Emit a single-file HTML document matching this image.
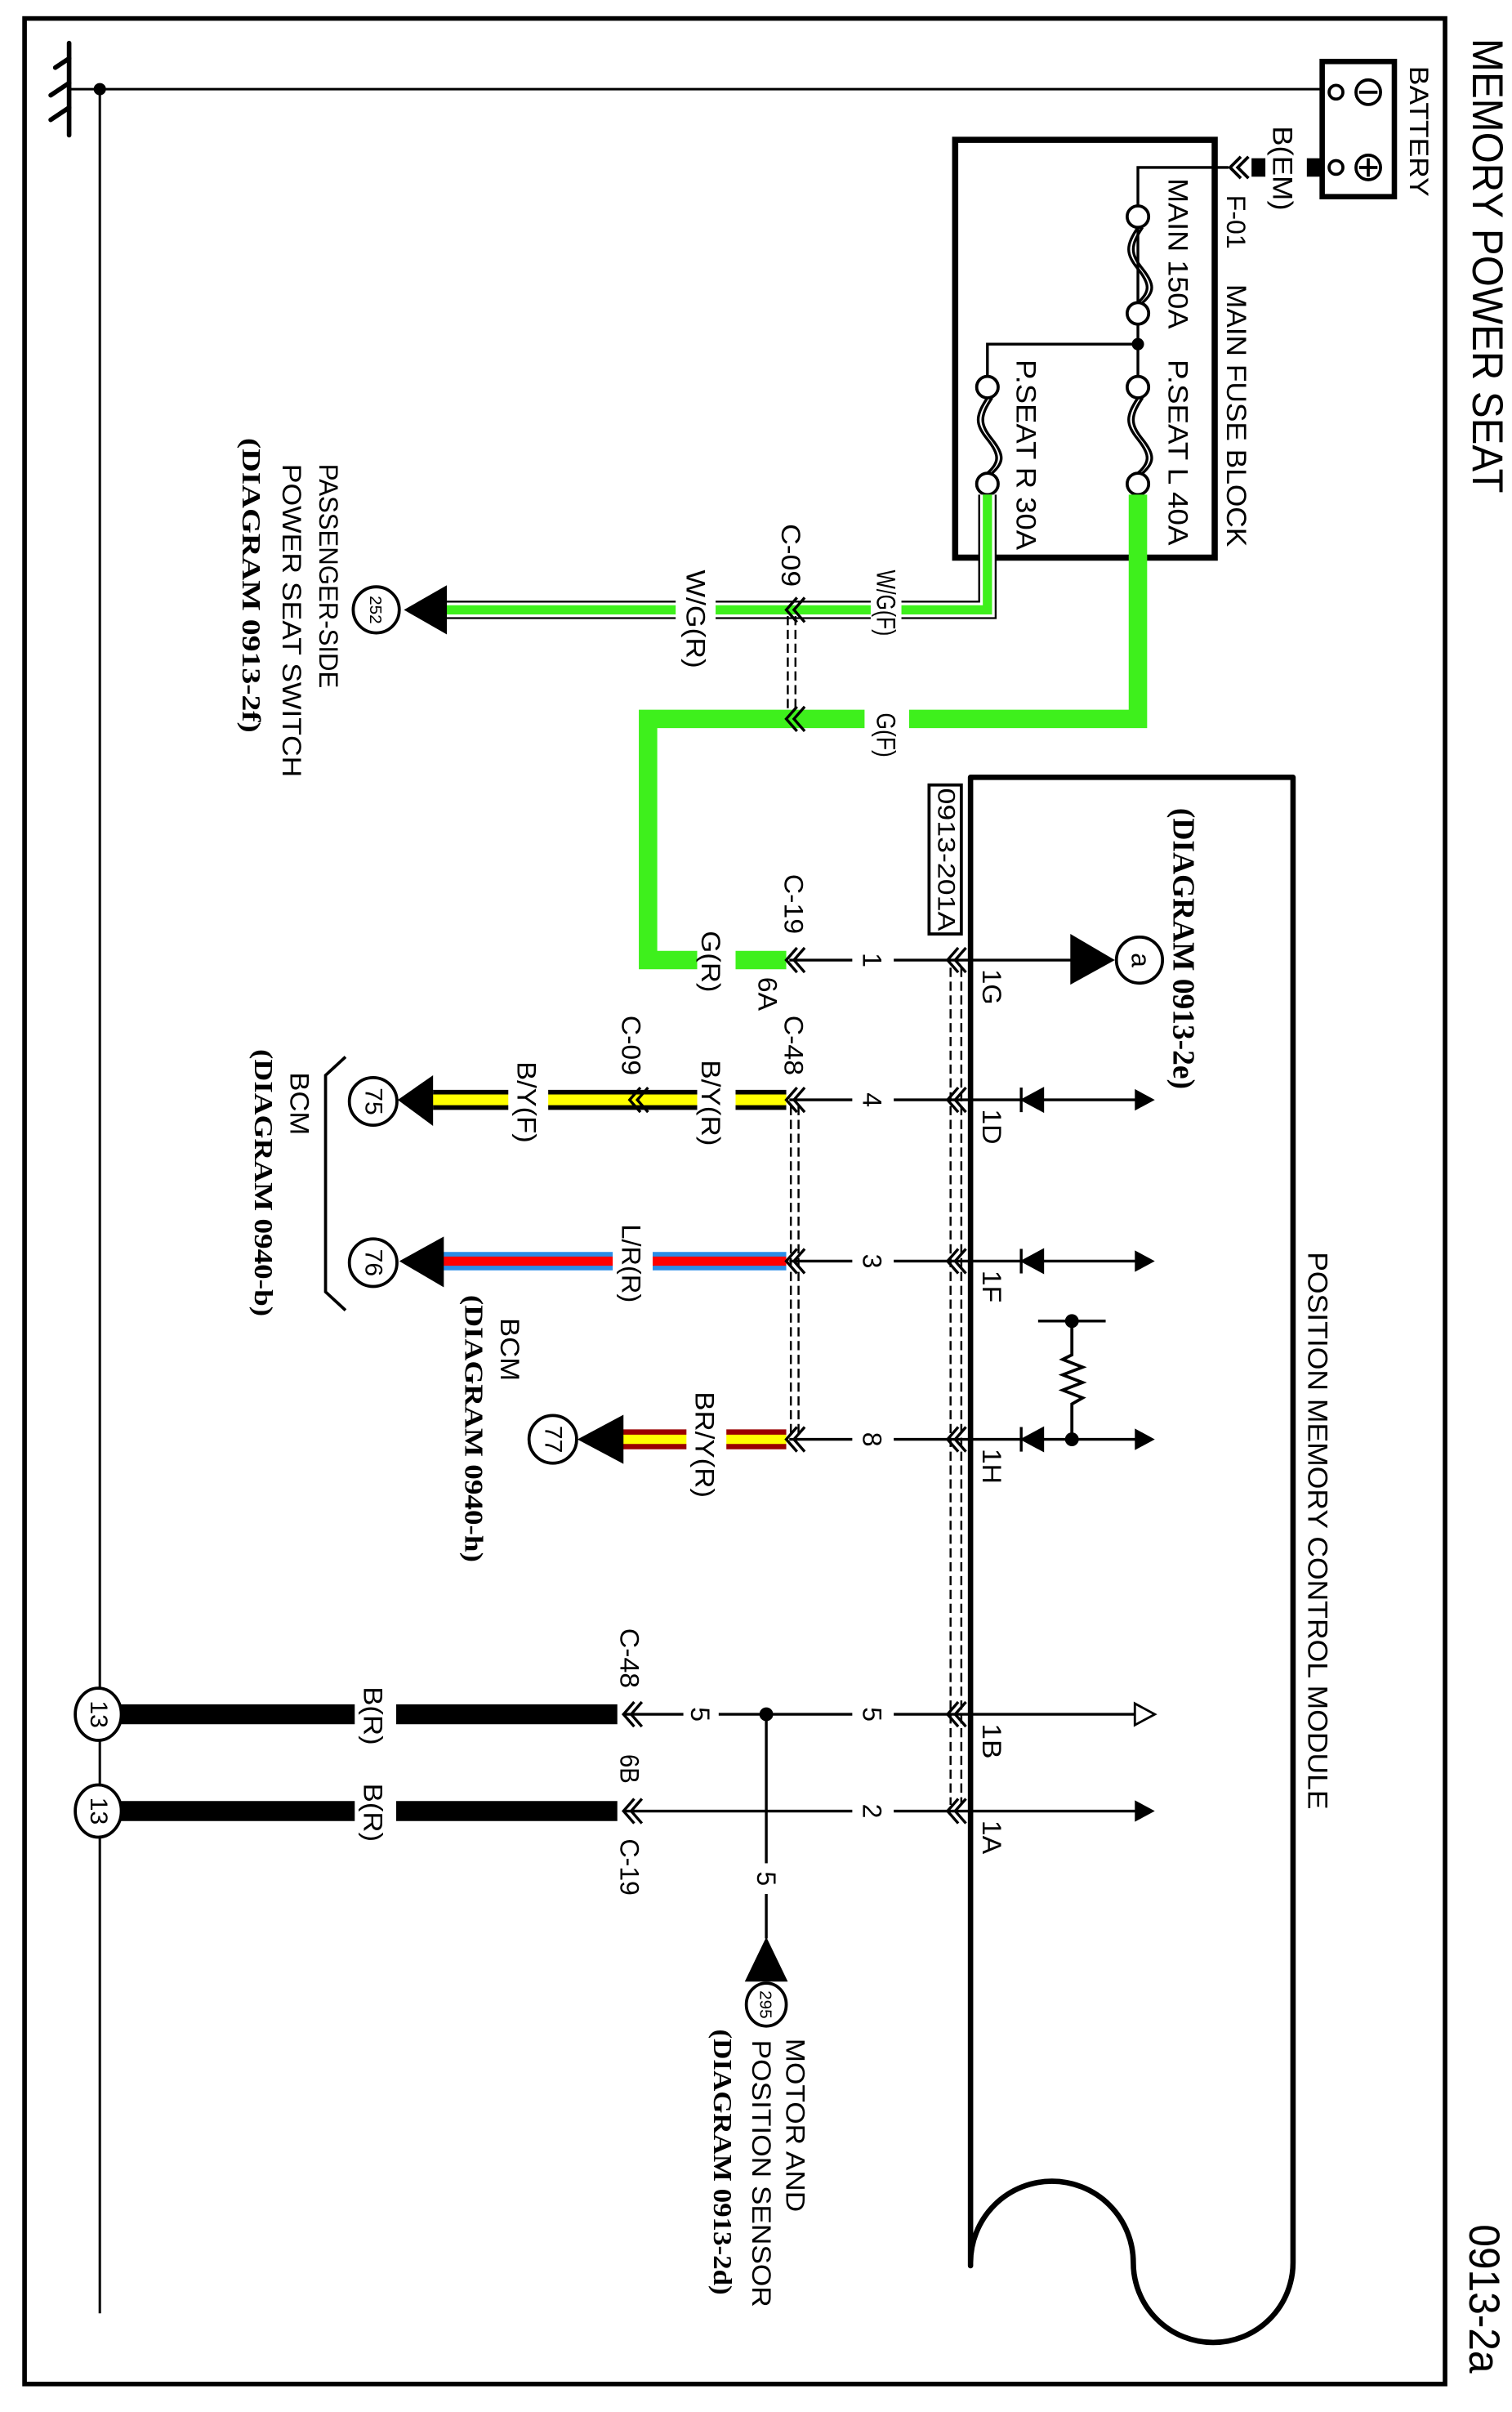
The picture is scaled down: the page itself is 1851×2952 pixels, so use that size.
<!DOCTYPE html>
<html><head><meta charset="utf-8">
<style>
html,body{margin:0;padding:0;background:#fff;}
svg{display:block;}
.s{font-family:"Liberation Sans",Arial,sans-serif;fill:#000;}
.r{font-family:"Liberation Serif","Times New Roman",serif;font-weight:bold;fill:#000;}
</style></head><body>
<svg xmlns="http://www.w3.org/2000/svg" width="1851" height="2952" viewBox="0 0 984.6 1570.2">
<rect x="0" y="0" width="984.6" height="1570.2" fill="#fff"/>
<rect x="16" y="12" width="925" height="1540" fill="none" stroke="#000" stroke-width="3"/>

<g stroke="#000" stroke-width="3" fill="none" stroke-linecap="round">
<line x1="45" y1="28" x2="45" y2="88"/>
<line x1="36" y1="44" x2="45" y2="38"/>
<line x1="33" y1="62" x2="45" y2="54"/>
<line x1="33" y1="78" x2="45" y2="70"/>
</g>
<g stroke="#000" stroke-width="1.6" fill="none">
<line x1="45" y1="58" x2="862" y2="58"/>
<line x1="65" y1="58" x2="65" y2="1506"/>
</g>
<circle cx="65" cy="58" r="4" fill="#000"/>

<rect x="861" y="40" width="47" height="88" fill="none" stroke="#000" stroke-width="3.5"/>
<circle cx="891" cy="60" r="8" fill="none" stroke="#000" stroke-width="2"/>
<line x1="885" y1="60" x2="897" y2="60" stroke="#000" stroke-width="2"/>
<circle cx="891" cy="109" r="8" fill="none" stroke="#000" stroke-width="2"/>
<line x1="885" y1="109" x2="897" y2="109" stroke="#000" stroke-width="2"/>
<line x1="891" y1="103" x2="891" y2="115" stroke="#000" stroke-width="2"/>
<circle cx="870" cy="60" r="4.5" fill="#fff" stroke="#000" stroke-width="2"/>
<circle cx="870" cy="109" r="4.5" fill="#fff" stroke="#000" stroke-width="2"/>
<rect x="851" y="103" width="9" height="12" fill="#000"/>
<rect x="815" y="103" width="9" height="12" fill="#000"/>
<polyline points="813,102 806,109 813,116" fill="none" stroke="#000" stroke-width="2"/>
<polyline points="808,102 801,109 808,116" fill="none" stroke="#000" stroke-width="2"/>

<rect x="622" y="91" width="169" height="272" fill="none" stroke="#000" stroke-width="4"/>
<g stroke="#000" stroke-width="1.8" fill="none">
<polyline points="800,109 741,109 741,134"/>
<line x1="741" y1="148" x2="741" y2="245"/>
<polyline points="741,224 643,224 643,245"/>
<path d="M741,148 C733,160 733,165 741,175 C749,185 749,190 741,197"/>
<path d="M744,148 C736,160 736,165 744,175 C752,185 752,190 744,197"/>
<path d="M741,259 C733,271 733,276 741,286 C749,296 749,301 741,308"/>
<path d="M744,259 C736,271 736,276 744,286 C752,296 752,301 744,308"/>
<path d="M643,259 C635,271 635,276 643,286 C651,296 651,301 643,308"/>
<path d="M646,259 C638,271 638,276 646,286 C654,296 654,301 646,308"/>
</g>
<g fill="#fff" stroke="#000" stroke-width="2">
<circle cx="741" cy="141" r="7"/><circle cx="741" cy="204" r="7"/>
<circle cx="741" cy="252" r="7"/><circle cx="741" cy="315" r="7"/>
<circle cx="643" cy="252" r="7"/><circle cx="643" cy="315" r="7"/>
</g>
<circle cx="741" cy="224" r="4" fill="#000"/>

<polyline points="741,322 741,468 422,468 422,625 512,625" fill="none" stroke="#3ef01c" stroke-width="12"/>
<polyline points="643,322 643,397 290,397" fill="none" stroke="#000" stroke-width="12"/>
<polyline points="643,322 643,397 290,397" fill="none" stroke="#fff" stroke-width="9.5"/>
<polyline points="643,322 643,397 290,397" fill="none" stroke="#3ef01c" stroke-width="6"/>

<line x1="282" y1="716" x2="512" y2="716" stroke="#000" stroke-width="13"/>
<line x1="282" y1="716" x2="512" y2="716" stroke="#ffff00" stroke-width="7"/>
<line x1="282" y1="821" x2="512" y2="821" stroke="#2a8ee8" stroke-width="12"/>
<line x1="282" y1="821" x2="512" y2="821" stroke="#ff0000" stroke-width="6"/>
<line x1="400" y1="937" x2="512" y2="937" stroke="#9a0000" stroke-width="13"/>
<line x1="400" y1="937" x2="512" y2="937" stroke="#ffff00" stroke-width="6"/>
<line x1="78" y1="1116" x2="402" y2="1116" stroke="#000" stroke-width="13"/>
<line x1="78" y1="1179" x2="402" y2="1179" stroke="#000" stroke-width="13"/>

<g stroke="#000" stroke-width="1.8" fill="none">
<line x1="514" y1="625" x2="632" y2="625"/>
<line x1="514" y1="716" x2="632" y2="716"/>
<line x1="514" y1="821" x2="632" y2="821"/>
<line x1="514" y1="937" x2="632" y2="937"/>
<line x1="406" y1="1116" x2="632" y2="1116"/>
<line x1="406" y1="1179" x2="632" y2="1179"/>
<line x1="499" y1="1116" x2="499" y2="1262"/>
<line x1="632" y1="625" x2="700" y2="625"/>
<line x1="632" y1="716" x2="742" y2="716"/>
<line x1="632" y1="821" x2="742" y2="821"/>
<line x1="632" y1="937" x2="742" y2="937"/>
<line x1="632" y1="1116" x2="742" y2="1116"/>
<line x1="632" y1="1179" x2="742" y2="1179"/>
<line x1="676" y1="860" x2="720" y2="860"/>
<polyline points="698,860 698,882 692,885 705,890 692,895 705,900 692,905 705,910 698,914 698,937" stroke-width="2"/>
</g>
<circle cx="698" cy="860" r="4.5" fill="#000"/>
<circle cx="698" cy="937" r="4.5" fill="#000"/>
<circle cx="499" cy="1116" r="4.5" fill="#000"/>

<g stroke="#000" stroke-width="1.3" stroke-dasharray="6,3" fill="none">
<line x1="619" y1="630" x2="619" y2="1175"/>
<line x1="626" y1="630" x2="626" y2="1175"/>
<line x1="515" y1="720" x2="515" y2="933"/>
<line x1="520" y1="720" x2="520" y2="933"/>
<line x1="513" y1="401" x2="513" y2="464"/>
<line x1="518" y1="401" x2="518" y2="464"/>
</g>

<g stroke="#000" stroke-width="1.8" fill="none">
<g id="chv"><polyline points="519,617 512,625 519,633"/><polyline points="524,617 517,625 524,633"/></g>
<use href="#chv" transform="translate(0,91)"/>
<use href="#chv" transform="translate(0,196)"/>
<use href="#chv" transform="translate(0,312)"/>
<use href="#chv" transform="translate(105,0)"/>
<use href="#chv" transform="translate(105,91)"/>
<use href="#chv" transform="translate(105,196)"/>
<use href="#chv" transform="translate(105,312)"/>
<use href="#chv" transform="translate(105,491)"/>
<use href="#chv" transform="translate(105,554)"/>
<use href="#chv" transform="translate(-106,491)"/>
<use href="#chv" transform="translate(-106,554)"/>
<use href="#chv" transform="translate(-102,91)"/>
<use href="#chv" transform="translate(0,-228)"/>
<use href="#chv" transform="translate(0,-157)"/>
</g>

<path d="M632,1475 V506 H842 V1473 A52,52 0 0,1 738,1473 A53,53 0 0,0 632,1473" fill="none" stroke="#000" stroke-width="3.5" stroke-linejoin="round" stroke-linecap="round"/>

<g fill="#000" stroke="#000" stroke-width="1.8">
<polygon points="679,709 679,723 666,716"/><line x1="665" y1="708" x2="665" y2="724"/>
<polygon points="679,814 679,828 666,821"/><line x1="665" y1="813" x2="665" y2="829"/>
<polygon points="679,930 679,944 666,937"/><line x1="665" y1="929" x2="665" y2="945"/>
</g>
<g fill="#000">
<polygon points="739,709 752,716 739,723"/>
<polygon points="739,814 752,821 739,828"/>
<polygon points="739,930 752,937 739,944"/>
<polygon points="739,1172 752,1179 739,1186"/>
</g>
<polygon points="739,1109 752,1116 739,1123" fill="#fff" stroke="#000" stroke-width="1.5"/>

<g fill="#000">
<polygon points="697,608 697,641 726,625"/>
<polygon points="291,381 291,413 263,397"/>
<polygon points="282,700 282,733 259,716"/>
<polygon points="289,805 289,838 260,821"/>
<polygon points="406,921 406,953 376,937"/>
<polygon points="485,1290 513,1290 499,1261"/>
</g>
<g fill="#fff" stroke="#000" stroke-width="2">
<circle cx="742" cy="625" r="15"/>
<circle cx="245" cy="397" r="15"/>
<circle cx="243" cy="717" r="15.5"/>
<circle cx="243" cy="822" r="15.5"/>
<circle cx="360" cy="937" r="15.5"/>
<ellipse cx="499" cy="1305" rx="13" ry="14"/>
<ellipse cx="64" cy="1116" rx="15" ry="17"/>
<ellipse cx="64" cy="1179" rx="15" ry="17"/>
</g>

<polyline points="225,688 212,700 212,841 225,853" fill="none" stroke="#000" stroke-width="2"/>

<g fill="#fff">
<rect x="567" y="385" width="20" height="24"/>
<rect x="440" y="385" width="26" height="24"/>
<rect x="563" y="458" width="29" height="20"/>
<rect x="454" y="615" width="25" height="20"/>
<rect x="454" y="706" width="25" height="20"/>
<rect x="331" y="706" width="26" height="20"/>
<rect x="399" y="811" width="26" height="20"/>
<rect x="447" y="927" width="26" height="20"/>
<rect x="231" y="1106" width="27" height="20"/>
<rect x="231" y="1169" width="27" height="20"/>
<rect x="555" y="615" width="27" height="20"/>
<rect x="555" y="706" width="27" height="20"/>
<rect x="555" y="811" width="27" height="20"/>
<rect x="555" y="927" width="27" height="20"/>
<rect x="555" y="1106" width="27" height="20"/>
<rect x="555" y="1169" width="27" height="20"/>
<rect x="445" y="1106" width="23" height="20"/>
<rect x="489" y="1213" width="20" height="20"/>
</g>

<rect x="605" y="511" width="21" height="97" fill="#fff" stroke="#000" stroke-width="2"/>

<g class="s">
<text transform="translate(959,25) rotate(90)" font-size="28" textLength="296" lengthAdjust="spacingAndGlyphs">MEMORY POWER SEAT</text>
<text transform="translate(957,1448) rotate(90)" font-size="28" textLength="97" lengthAdjust="spacingAndGlyphs">0913-2a</text>
<text transform="translate(918,43) rotate(90)" font-size="17" textLength="85" lengthAdjust="spacingAndGlyphs">BATTERY</text>
<text transform="translate(829,82) rotate(90)" font-size="18" textLength="55" lengthAdjust="spacingAndGlyphs">B(EM)</text>
<text transform="translate(799,127) rotate(90)" font-size="17" textLength="35" lengthAdjust="spacingAndGlyphs">F-01</text>
<text transform="translate(799,185) rotate(90)" font-size="18" textLength="171" lengthAdjust="spacingAndGlyphs">MAIN FUSE BLOCK</text>
<text transform="translate(761,116) rotate(90)" font-size="18" textLength="98" lengthAdjust="spacingAndGlyphs">MAIN 150A</text>
<text transform="translate(761,234) rotate(90)" font-size="18" textLength="121" lengthAdjust="spacingAndGlyphs">P.SEAT L 40A</text>
<text transform="translate(662,234) rotate(90)" font-size="18" textLength="124" lengthAdjust="spacingAndGlyphs">P.SEAT R 30A</text>
<text transform="translate(571,371) rotate(90)" font-size="17" textLength="43" lengthAdjust="spacingAndGlyphs">W/G(F)</text>
<text transform="translate(509,341) rotate(90)" font-size="17" textLength="41" lengthAdjust="spacingAndGlyphs">C-09</text>
<text transform="translate(447,371) rotate(90)" font-size="17" textLength="64" lengthAdjust="spacingAndGlyphs">W/G(R)</text>
<text transform="translate(571,464) rotate(90)" font-size="17" textLength="29" lengthAdjust="spacingAndGlyphs">G(F)</text>
<text transform="translate(208,302) rotate(90)" font-size="17" textLength="146" lengthAdjust="spacingAndGlyphs">PASSENGER-SIDE</text>
<text transform="translate(184,302) rotate(90)" font-size="17" textLength="204" lengthAdjust="spacingAndGlyphs">POWER SEAT SWITCH</text>
<text transform="translate(852,815) rotate(90)" font-size="18" textLength="363" lengthAdjust="spacingAndGlyphs">POSITION MEMORY CONTROL MODULE</text>
<text transform="translate(611,513) rotate(90)" font-size="16" textLength="93" lengthAdjust="spacingAndGlyphs">0913-201A</text>
<text transform="translate(511,569) rotate(90)" font-size="17" textLength="39" lengthAdjust="spacingAndGlyphs">C-19</text>
<text transform="translate(494,636) rotate(90)" font-size="17" textLength="22" lengthAdjust="spacingAndGlyphs">6A</text>
<text transform="translate(457,606) rotate(90)" font-size="17" textLength="40" lengthAdjust="spacingAndGlyphs">G(R)</text>
<text transform="translate(511,661) rotate(90)" font-size="17" textLength="39" lengthAdjust="spacingAndGlyphs">C-48</text>
<text transform="translate(457,690) rotate(90)" font-size="17" textLength="56" lengthAdjust="spacingAndGlyphs">B/Y(R)</text>
<text transform="translate(405,661) rotate(90)" font-size="17" textLength="39" lengthAdjust="spacingAndGlyphs">C-09</text>
<text transform="translate(337,691) rotate(90)" font-size="17" textLength="53" lengthAdjust="spacingAndGlyphs">B/Y(F)</text>
<text transform="translate(405,797) rotate(90)" font-size="17" textLength="51" lengthAdjust="spacingAndGlyphs">L/R(R)</text>
<text transform="translate(453,906) rotate(90)" font-size="17" textLength="69" lengthAdjust="spacingAndGlyphs">BR/Y(R)</text>
<text transform="translate(189,698) rotate(90)" font-size="17" textLength="41" lengthAdjust="spacingAndGlyphs">BCM</text>
<text transform="translate(326,858) rotate(90)" font-size="17" textLength="41" lengthAdjust="spacingAndGlyphs">BCM</text>
<text transform="translate(404,1060) rotate(90)" font-size="17" textLength="39" lengthAdjust="spacingAndGlyphs">C-48</text>
<text transform="translate(404,1142) rotate(90)" font-size="17" textLength="19" lengthAdjust="spacingAndGlyphs">6B</text>
<text transform="translate(404,1197) rotate(90)" font-size="17" textLength="37" lengthAdjust="spacingAndGlyphs">C-19</text>
<text transform="translate(237,1098) rotate(90)" font-size="17" textLength="38" lengthAdjust="spacingAndGlyphs">B(R)</text>
<text transform="translate(237,1161) rotate(90)" font-size="17" textLength="38" lengthAdjust="spacingAndGlyphs">B(R)</text>
<text transform="translate(512,1327) rotate(90)" font-size="17" textLength="113" lengthAdjust="spacingAndGlyphs">MOTOR AND</text>
<text transform="translate(490,1328) rotate(90)" font-size="17" textLength="174" lengthAdjust="spacingAndGlyphs">POSITION SENSOR</text>
<text transform="translate(640,631) rotate(90)" font-size="17" textLength="23" lengthAdjust="spacingAndGlyphs">1G</text>
<text transform="translate(640,722) rotate(90)" font-size="17" textLength="23" lengthAdjust="spacingAndGlyphs">1D</text>
<text transform="translate(640,827) rotate(90)" font-size="17" textLength="21" lengthAdjust="spacingAndGlyphs">1F</text>
<text transform="translate(640,943) rotate(90)" font-size="17" textLength="23" lengthAdjust="spacingAndGlyphs">1H</text>
<text transform="translate(640,1122) rotate(90)" font-size="17" textLength="23" lengthAdjust="spacingAndGlyphs">1B</text>
<text transform="translate(640,1185) rotate(90)" font-size="17" textLength="22" lengthAdjust="spacingAndGlyphs">1A</text>
</g>
<g class="s" font-size="17" text-anchor="middle">
<text transform="translate(562,625) rotate(90)">1</text>
<text transform="translate(562,716) rotate(90)">4</text>
<text transform="translate(562,821) rotate(90)">3</text>
<text transform="translate(562,937) rotate(90)">8</text>
<text transform="translate(562,1116) rotate(90)">5</text>
<text transform="translate(562,1179) rotate(90)">2</text>
<text transform="translate(450,1116) rotate(90)">5</text>
<text transform="translate(493,1223) rotate(90)">5</text>
</g>
<g class="s" text-anchor="middle">
<text transform="translate(737,625) rotate(90)" font-size="17">a</text>
<text transform="translate(241,397) rotate(90)" font-size="11">252</text>
<text transform="translate(238,717) rotate(90)" font-size="16">75</text>
<text transform="translate(238,822) rotate(90)" font-size="16">76</text>
<text transform="translate(355,937) rotate(90)" font-size="16">77</text>
<text transform="translate(495,1305) rotate(90)" font-size="11">295</text>
<text transform="translate(59,1116) rotate(90)" font-size="16">13</text>
<text transform="translate(59,1179) rotate(90)" font-size="16">13</text>
</g>
<g class="r">
<text transform="translate(158,285) rotate(90)" font-size="17" textLength="192" lengthAdjust="spacingAndGlyphs">(DIAGRAM 0913-2f)</text>
<text transform="translate(764,526) rotate(90)" font-size="20" textLength="183" lengthAdjust="spacingAndGlyphs">(DIAGRAM 0913-2e)</text>
<text transform="translate(166,683) rotate(90)" font-size="17" textLength="174" lengthAdjust="spacingAndGlyphs">(DIAGRAM 0940-b)</text>
<text transform="translate(303,843) rotate(90)" font-size="17" textLength="174" lengthAdjust="spacingAndGlyphs">(DIAGRAM 0940-h)</text>
<text transform="translate(465,1321) rotate(90)" font-size="17" textLength="173" lengthAdjust="spacingAndGlyphs">(DIAGRAM 0913-2d)</text>
</g>
</svg>
</body></html>
